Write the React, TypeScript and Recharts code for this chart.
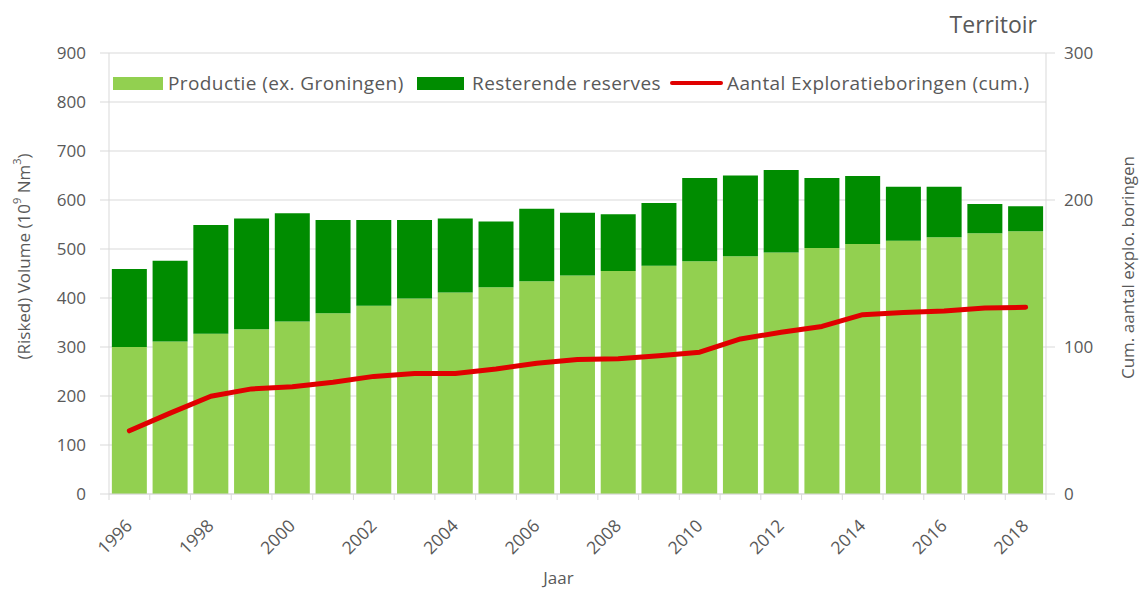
import React from 'react';
import { ComposedChart, Bar, Line, XAxis, YAxis, CartesianGrid, Label } from 'recharts';

const years = ['1996','1997','1998','1999','2000','2001','2002','2003','2004','2005','2006','2007','2008','2009','2010','2011','2012','2013','2014','2015','2016','2017','2018'];
const productie = [300,311,327,336,352,369,384,399,411,422,434,446,455,466,475,485,493,502,510,517,524,532,536];
const reserves = [159,165,222,226,221,190,175,160,151,134,148,128,116,128,170,165,168,143,139,110,103,60,51];
const boringen = [43,55,66.5,71.5,73,76,80,82,82,85,89,91.5,92,94,96.5,105.5,110,114,122,123.5,124.5,126.5,127];

const leftTicks = [0,100,200,300,400,500,600,700,800,900];
const rightTicks = [0,100,200,300];

const LIGHT = '#92D050';
const DARK = '#008C00';
const RED = '#E00000';
const TEXT = '#595959';
const GRID = '#D9D9D9';
const FONT = '"Open Sans", Lato, sans-serif';

const data = years.map((y, i) => ({ year: y, productie: productie[i], reserves: reserves[i], boringen: boringen[i] }));

function XTick(props: any) {
  const { x, y, payload, index } = props;
  const half = payload && payload.offset ? payload.offset : 20.4;
  const last = index === years.length - 1;
  const ax = x + 4, ay = y + 33;
  return (
    <g>
      <line x1={x - half} x2={x - half} y1={y} y2={y + 6} stroke={GRID} />
      {last && <line x1={x + half} x2={x + half} y1={y} y2={y + 6} stroke={GRID} />}
      {index % 2 === 0 && (
        <text x={ax} y={ay} textAnchor="end" fill={TEXT} fontSize={17.5} fontFamily={FONT}
          transform={`rotate(-45 ${ax} ${ay})`}>{payload.value}</text>
      )}
    </g>
  );
}

export default function App() {
  return (
    <div style={{ position: 'absolute', left: 0, top: 0, width: 1139, height: 590, background: '#fff', fontFamily: FONT }}>
      <ComposedChart width={1139} height={590} data={data} margin={{ top: 53, right: 0, bottom: 0, left: 0 }} barCategoryGap="7%">
        <CartesianGrid vertical={false} stroke={GRID} yAxisId="left" />
        <XAxis dataKey="year" interval={0} tickSize={0} tickMargin={0} height={96} stroke={GRID} tick={<XTick />}>
          <Label content={(p: any) => {
            const vb = p.viewBox;
            return <text x={vb.x + vb.width / 2 - 19} y={vb.y + 90} textAnchor="middle" fill={TEXT} fontSize={17} fontFamily={FONT}>Jaar</text>;
          }} />
        </XAxis>
        <YAxis yAxisId="left" width={109} domain={[0, 900]} ticks={leftTicks} tickSize={9} tickMargin={14}
          stroke={GRID} tick={{ fill: TEXT, fontSize: 17, fontFamily: FONT }}>
          <Label content={(p: any) => {
            const vb = p.viewBox;
            const cx = 25, cy = vb.y + vb.height / 2 - 17;
            return (
              <text x={cx} y={cy} textAnchor="middle" fill={TEXT} fontSize={17} fontFamily={FONT}
                transform={`rotate(-90 ${cx} ${cy})`} dominantBaseline="middle">
                (Risked) Volume (10<tspan fontSize={11} dy={-7}>9</tspan><tspan dy={7}> Nm</tspan><tspan fontSize={11} dy={-7}>3</tspan><tspan dy={7}>)</tspan>
              </text>
            );
          }} />
        </YAxis>
        <YAxis yAxisId="right" orientation="right" width={93} domain={[0, 300]} ticks={rightTicks} tickSize={9} tickMargin={9}
          stroke={GRID} tick={{ fill: TEXT, fontSize: 17, fontFamily: FONT }}>
          <Label content={(p: any) => {
            const vb = p.viewBox;
            const cx = vb.x + vb.width - 10, cy = vb.y + vb.height / 2 - 6;
            return (
              <text x={cx} y={cy} textAnchor="middle" fill={TEXT} fontSize={17} fontFamily={FONT}
                transform={`rotate(-90 ${cx} ${cy})`} dominantBaseline="middle">Cum. aantal explo. boringen</text>
            );
          }} />
        </YAxis>
        <Bar yAxisId="left" dataKey="productie" stackId="a" fill={LIGHT} isAnimationActive={false} />
        <Bar yAxisId="left" dataKey="reserves" stackId="a" fill={DARK} isAnimationActive={false} />
        <Line yAxisId="right" dataKey="boringen" stroke={RED} strokeWidth={5} strokeLinejoin="round" strokeLinecap="round" dot={false} type="linear" isAnimationActive={false} />
      </ComposedChart>
      <div style={{ position: 'absolute', right: 102, top: 9, fontSize: 23, color: TEXT, lineHeight: '30px' }}>Territoir</div>
      <div style={{ position: 'absolute', left: 0, top: 70, width: 1139, height: 26, fontSize: 19, letterSpacing: '0.4px', color: TEXT, whiteSpace: 'nowrap', lineHeight: '26px' }}>
        <span style={{ position: 'absolute', left: 113, top: 7, width: 50, height: 13, background: LIGHT }} />
        <span style={{ position: 'absolute', left: 168, top: 0 }}>Productie (ex. Groningen)</span>
        <span style={{ position: 'absolute', left: 417, top: 7, width: 47, height: 13, background: DARK }} />
        <span style={{ position: 'absolute', left: 472, top: 0 }}>Resterende reserves</span>
        <span style={{ position: 'absolute', left: 670, top: 11, width: 53, height: 4, background: RED, borderRadius: 2 }} />
        <span style={{ position: 'absolute', left: 727, top: 0 }}>Aantal Exploratieboringen (cum.)</span>
      </div>
    </div>
  );
}
